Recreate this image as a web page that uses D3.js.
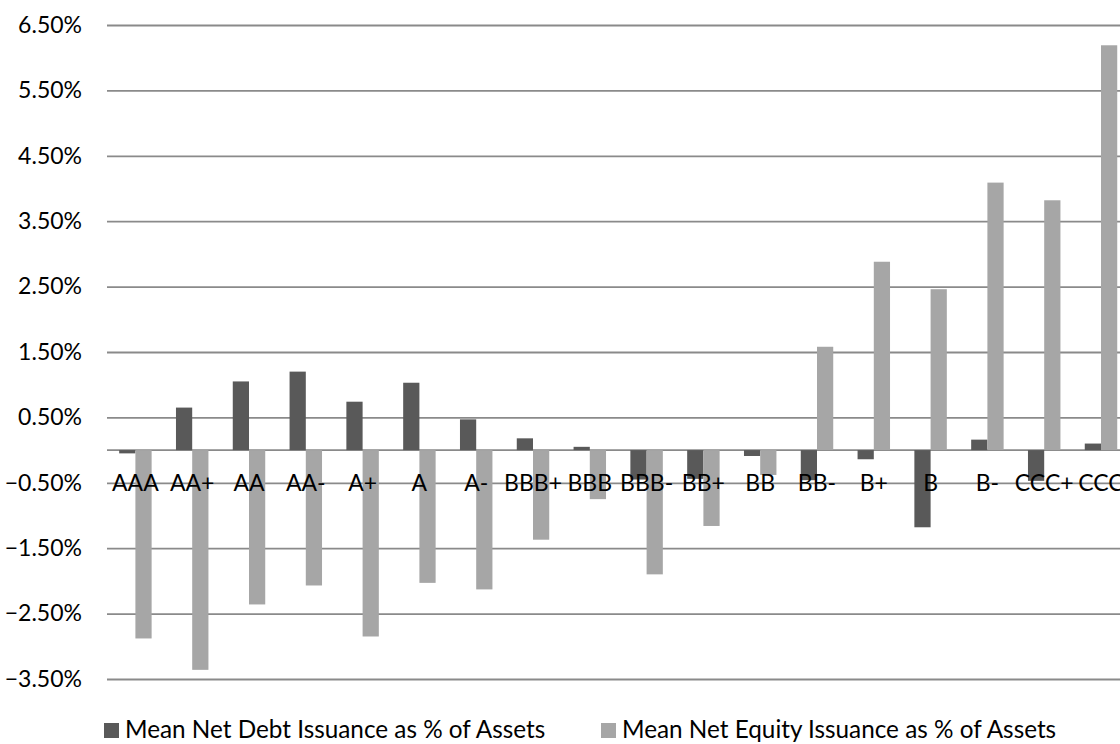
<!DOCTYPE html>
<html>
<head>
<meta charset="utf-8">
<script src="https://cdn.jsdelivr.net/npm/d3@7"></script>
<style>
  html, body { margin: 0; padding: 0; background: #ffffff; overflow: hidden; }
  svg { display: block; font-family: Lato, "Open Sans", sans-serif; }
</style>
</head>
<body>
<svg id="chart" width="1120" height="744"></svg>
<script>
// Credit rating categories along the horizontal axis
const ratings = ["AAA", "AA+", "AA", "AA-", "A+", "A", "A-", "BBB+", "BBB", "BBB-",
                 "BB+", "BB", "BB-", "B+", "B", "B-", "CCC+", "CCC"];

// Mean net debt issuance, % of assets
const debtIssuance = [-0.05, 0.65, 1.05, 1.20, 0.74, 1.03, 0.47, 0.18, 0.05, -0.45,
                      -0.44, -0.09, -0.46, -0.14, -1.18, 0.16, -0.47, 0.10];

// Mean net equity issuance, % of assets
const equityIssuance = [-2.88, -3.36, -2.36, -2.07, -2.85, -2.03, -2.13, -1.37, -0.75, -1.90,
                        -1.16, -0.38, 1.58, 2.88, 2.46, 4.09, 3.82, 6.19];

// Value axis ticks (percent)
const yTicks = [-3.5, -2.5, -1.5, -0.5, 0.5, 1.5, 2.5, 3.5, 4.5, 5.5, 6.5];

const seriesNames = ["Mean Net Debt Issuance as % of Assets",
                     "Mean Net Equity Issuance as % of Assets"];
const seriesColors = ["#595959", "#a6a6a6"];

const svg = d3.select("#chart");

const plotLeft = 107, plotRight = 1129.4, plotTop = 25, plotBottom = 679;

const x0 = d3.scaleBand().domain(ratings).range([plotLeft, plotRight]).padding(0);
const x1 = d3.scaleBand().domain([0, 1]).range([0, x0.bandwidth()])
  .paddingInner(0).paddingOuter(0.75);
const y = d3.scaleLinear().domain([-3.5, 6.5]).range([plotBottom, plotTop]);

// Horizontal gridlines with the value labels
const yAxis = svg.append("g")
  .attr("transform", `translate(${plotLeft},0)`)
  .call(d3.axisLeft(y)
    .tickValues(yTicks)
    .tickSize(-(plotRight - plotLeft))
    .tickPadding(25)
    .tickFormat(d => d3.format(".2f")(d) + "%"));
yAxis.select(".domain").remove();
yAxis.selectAll(".tick line").attr("stroke", "#8a8a8a").attr("stroke-width", 1.8);
yAxis.selectAll(".tick text")
  .attr("fill", "#000").attr("font-size", 23).attr("font-family", "Lato, sans-serif");

// Category axis line at zero
svg.append("line")
  .attr("x1", plotLeft).attr("x2", plotRight)
  .attr("y1", y(0)).attr("y2", y(0))
  .attr("stroke", "#8a8a8a").attr("stroke-width", 1.8);

// Bars
const rows = ratings.map((r, i) => ({ rating: r, values: [debtIssuance[i], equityIssuance[i]] }));
const groups = svg.append("g").selectAll("g")
  .data(rows).join("g")
  .attr("transform", d => `translate(${x0(d.rating)},0)`);
groups.selectAll("rect")
  .data(d => d.values.map((v, k) => ({ v, k })))
  .join("rect")
  .attr("x", d => x1(d.k))
  .attr("width", x1.bandwidth())
  .attr("y", d => y(Math.max(0, d.v)))
  .attr("height", d => Math.abs(y(d.v) - y(0)))
  .attr("fill", d => seriesColors[d.k]);

// Category labels, drawn over the bars next to the zero line
const xAxis = svg.append("g")
  .attr("transform", `translate(0,${y(0)})`)
  .call(d3.axisBottom(x0).tickSize(0).tickPadding(25));
xAxis.select(".domain").remove();
xAxis.selectAll(".tick text")
  .attr("fill", "#000").attr("font-size", 23).attr("font-family", "Lato, sans-serif");

// Legend
const legendX = [104, 601];
const legend = svg.append("g").selectAll("g")
  .data(seriesNames).join("g")
  .attr("transform", (d, i) => `translate(${legendX[i]},723)`);
legend.append("rect")
  .attr("width", 15).attr("height", 15)
  .attr("fill", (d, i) => seriesColors[i]);
legend.append("text")
  .attr("x", 21).attr("y", 15)
  .attr("font-size", 24.3).attr("fill", "#000")
  .text(d => d);
</script>
</body>
</html>
